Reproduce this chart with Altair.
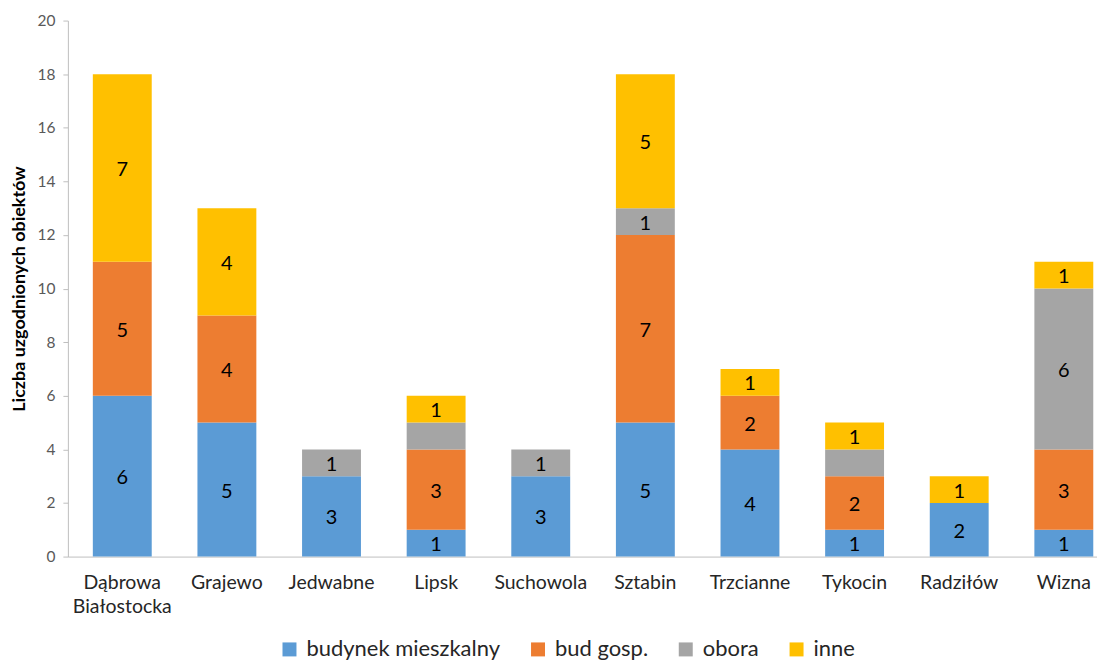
import altair as alt
import pandas as pd

categories = ["Dąbrowa Białostocka", "Grajewo", "Jedwabne", "Lipsk", "Suchowola",
              "Sztabin", "Trzcianne", "Tykocin", "Radziłów", "Wizna"]
series = ["budynek mieszkalny", "bud gosp.", "obora", "inne"]
colors = ["#5B9BD5", "#ED7D31", "#A5A5A5", "#FFC000"]

budynek = [6, 5, 3, 1, 3, 5, 4, 1, 2, 1]
bud_gosp = [5, 4, 0, 3, 0, 7, 2, 2, 0, 3]
obora = [0, 0, 1, 1, 1, 1, 0, 1, 0, 6]
inne = [7, 4, 0, 1, 0, 5, 1, 1, 1, 1]
# whether the data label of the obora segment is shown
obora_label = [False, False, True, False, True, True, False, False, False, True]

rows = []
values = [budynek, bud_gosp, obora, inne]
for i, c in enumerate(categories):
    for j, s in enumerate(series):
        v = values[j][i]
        if v == 0:
            continue
        show = obora_label[i] if s == "obora" else True
        rows.append({"cat": c, "series": s, "ord": j, "value": v, "show": show})
df = pd.DataFrame(rows)

FONT = "Lato"

base = alt.Chart(df)

bars = base.mark_bar(size=59).encode(
    x=alt.X("cat:N", sort=categories,
            axis=alt.Axis(title=None, labelAngle=0, labelFontSize=19.5, labelColor="#262626",
                          labelFont=FONT, ticks=False, domainColor="#BFBFBF",
                          labelPadding=17, labelExpr="split(datum.label, ' ')",
                          labelLineHeight=24),
            scale=alt.Scale(paddingInner=0.437, paddingOuter=0.137, align=0.87)),
    y=alt.Y("value:Q", stack="zero",
            scale=alt.Scale(domain=[0, 20]),
            axis=alt.Axis(title="Liczba uzgodnionych obiektów", values=list(range(0, 21, 2)),
                          grid=False, labelFontSize=15.5, labelColor="#595959", labelFont=FONT,
                          titleFont=FONT, titleFontSize=18, titleFontWeight="bold",
                          titleColor="#000000", domainColor="#BFBFBF", tickColor="#BFBFBF",
                          tickSize=5, labelPadding=8, titlePadding=8)),
    color=alt.Color("series:N", sort=series,
                    scale=alt.Scale(domain=series, range=colors),
                    legend=alt.Legend(title=None, orient="none", direction="horizontal",
                                      legendX=211, legendY=619,
                                      symbolType="square", symbolSize=196,
                                      symbolStrokeWidth=0, labelFontSize=22,
                                      labelFont=FONT, labelColor="#262626",
                                      labelLimit=0, labelOffset=6,
                                      columnPadding=26)),
    order=alt.Order("ord:Q"),
)

labels = base.transform_stack(
    stack="value", as_=["y0", "y1"], groupby=["cat"], sort=[{"field": "ord", "order": "ascending"}]
).transform_calculate(
    mid="(datum.y0 + datum.y1) / 2"
).transform_filter(
    "datum.show"
).mark_text(fontSize=20, font=FONT, color="#000000", baseline="middle", dy=2).encode(
    x=alt.X("cat:N", sort=categories),
    y=alt.Y("mid:Q"),
    text=alt.Text("value:Q"),
)

chart = alt.layer(bars, labels).properties(
    width=1031, height=537,
    padding={"top": 5, "left": 3, "right": 0, "bottom": 0},
).configure_view(stroke=None)

chart.save("out.html", embed_options={"renderer": "svg", "actions": False})
